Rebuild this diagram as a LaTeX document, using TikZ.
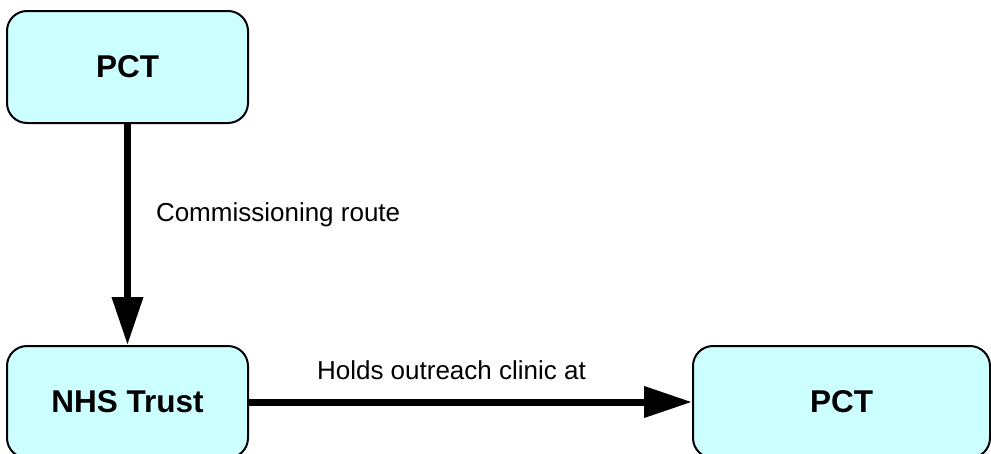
\documentclass[tikz,border=0pt]{standalone}
\usepackage{fontspec}
\setmainfont{Liberation Sans}
\usetikzlibrary{arrows.meta,positioning}
\definecolor{boxc}{HTML}{CCFFFF}

\begin{document}
\begin{tikzpicture}[x=1pt,y=-1pt,
      box/.style={draw,fill=boxc,rounded corners=20pt,line width=2pt,minimum height=112pt,align=center,font=\bfseries\fontsize{31.5}{37}\selectfont},
      lab/.style={inner sep=0pt,font=\fontsize{26}{31}\selectfont},
      link/.style={line width=7pt,-{Triangle[length=48pt,width=30pt]}}]
    \useasboundingbox (0,0) rectangle (991,453);
    \node[box,minimum width=241pt] (pcta) at (127.5,67) {PCT};
    \node[box,minimum width=241pt,below=221pt of pcta] (nhs) {NHS Trust};
    \node[box,minimum width=297pt,right=443pt of nhs] (pctb) {PCT};
    \draw[link] (pcta) -- node[lab,pos=0.41,right=25pt] {Commissioning route} (nhs);
    \draw[link] (nhs) -- node[lab,pos=0.457,above=19pt] {Holds outreach clinic at} (pctb);
  \end{tikzpicture}
\end{document}
